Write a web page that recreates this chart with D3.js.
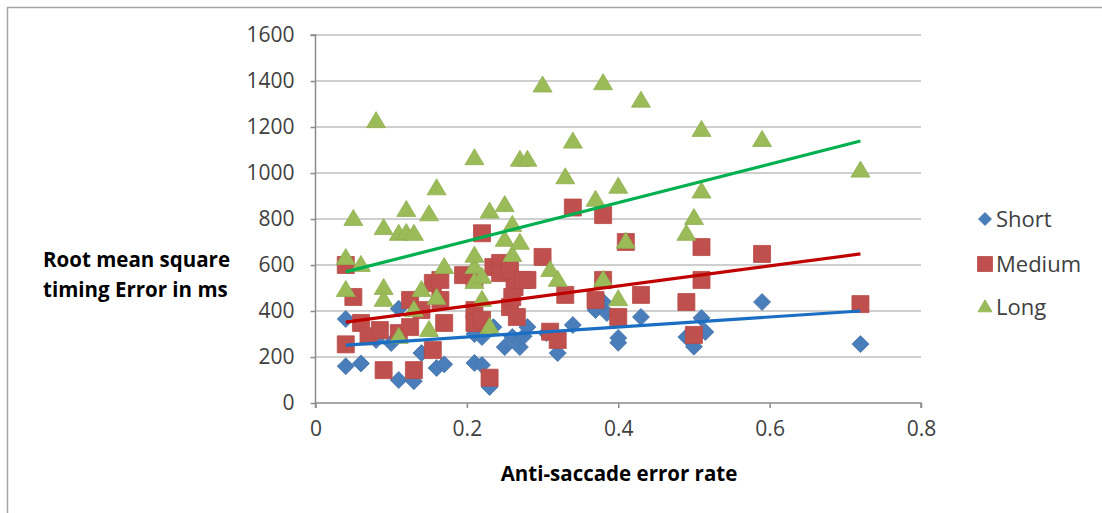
<!DOCTYPE html>
<html><head><meta charset="utf-8">
<script src="https://cdn.jsdelivr.net/npm/d3@7"></script>
<style>body{margin:0;background:#fff;} svg{display:block;font-family:"Open Sans",sans-serif;}</style>
</head><body>
<script>
// ---- data ----
const shortData = [[0.04,365],[0.04,160],[0.06,172],[0.08,274],[0.10,261],[0.11,410],[0.11,100],[0.13,95],[0.14,217],[0.16,152],[0.17,168],[0.21,300],[0.21,174],[0.22,165],[0.22,287],[0.23,70],[0.235,330],[0.25,243],[0.26,287],[0.27,243],[0.275,290],[0.28,330],[0.305,304],[0.32,217],[0.34,339],[0.37,404],[0.385,391],[0.38,440],[0.40,283],[0.40,262],[0.43,374],[0.49,287],[0.50,245],[0.51,370],[0.515,309],[0.59,439],[0.72,256]];
const mediumData = [[0.04,600],[0.04,255],[0.05,461],[0.06,348],[0.07,290],[0.085,317],[0.09,143],[0.11,304],[0.125,448],[0.125,330],[0.13,143],[0.14,404],[0.155,522],[0.155,230],[0.165,448],[0.165,535],[0.17,348],[0.195,556],[0.21,543],[0.21,404],[0.21,348],[0.22,738],[0.22,361],[0.23,110],[0.235,591],[0.244,609],[0.244,565],[0.257,578],[0.257,417],[0.263,504],[0.26,461],[0.266,374],[0.274,535],[0.28,535],[0.30,635],[0.31,310],[0.32,274],[0.33,470],[0.34,850],[0.38,817],[0.38,535],[0.37,448],[0.40,374],[0.41,700],[0.43,470],[0.49,439],[0.50,296],[0.51,678],[0.51,535],[0.59,648],[0.72,430]];
const longData = [[0.04,630],[0.04,491],[0.05,800],[0.06,600],[0.08,1225],[0.09,760],[0.09,500],[0.09,448],[0.11,735],[0.11,287],[0.12,839],[0.12,739],[0.13,735],[0.13,404],[0.14,491],[0.15,820],[0.15,317],[0.16,457],[0.16,933],[0.17,591],[0.21,1064],[0.21,591],[0.21,526],[0.21,640],[0.22,548],[0.22,448],[0.23,832],[0.23,330],[0.25,860],[0.25,709],[0.26,774],[0.26,643],[0.27,696],[0.27,1057],[0.28,1057],[0.30,1380],[0.31,578],[0.32,535],[0.33,981],[0.34,1136],[0.37,883],[0.38,1390],[0.38,535],[0.40,940],[0.40,451],[0.41,701],[0.43,1314],[0.49,735],[0.50,804],[0.51,1187],[0.51,919],[0.59,1143],[0.72,1010]];
const trendShort = [[0.04,252],[0.72,400]];
const trendMedium = [[0.04,352],[0.72,648]];
const trendLong = [[0.04,570],[0.72,1139]];
const seriesNames = ["Short","Medium","Long"];
const xTicks = [0,0.2,0.4,0.6,0.8];
const yTicks = [0,200,400,600,800,1000,1200,1400,1600];
const yTitle = ["Root mean square","timing Error in ms"];
const xTitle = "Anti-saccade error rate";

// ---- drawing ----
const W=1102,H=513;
const svg=d3.select("body").append("svg").attr("width",W).attr("height",H);
svg.append("path").attr("d",`M7.5,${H} V7.5 H${W}`).attr("fill","none").attr("stroke","#a6a6a6").attr("stroke-width",1.5);

const x=d3.scaleLinear().domain([0,0.8]).range([315.5,921]);
const y=d3.scaleLinear().domain([0,1600]).range([403,35]);

// gridlines
svg.append("g").selectAll("line").data(yTicks.slice(1)).join("line")
 .attr("x1",x(0)).attr("x2",x(0.8)).attr("y1",d=>y(d)).attr("y2",d=>y(d))
 .attr("stroke","#bfbfbf").attr("stroke-width",1.5);

const fs=21;
const yAxis=d3.axisLeft(y).tickValues(yTicks).tickSize(5).tickPadding(16).tickFormat(d3.format("d"));
const gy=svg.append("g").attr("transform",`translate(${x(0)},0)`).call(yAxis);
const xAxis=d3.axisBottom(x).tickValues(xTicks).tickSize(5).tickPadding(13).tickFormat(d=>d===0?"0":d3.format(".1f")(d));
const gx=svg.append("g").attr("transform",`translate(0,${y(0)})`).call(xAxis);
[gx,gy].forEach(g=>{
  g.select(".domain").attr("stroke","#8c8c8c").attr("stroke-width",1.5);
  g.selectAll(".tick line").attr("stroke","#8c8c8c").attr("stroke-width",1.5);
  g.selectAll("text").attr("font-size",fs).attr("fill","#404040").attr("font-family","'Open Sans',sans-serif");
});
gx.select(".domain").attr("d",`M${x(0)},5V0H${x(0.8)}V5`);
gy.select(".domain").attr("d",`M-5,${y(1600)}H0V${y(0)}`);

// markers
const diamond=(s)=>`M0,${-s}L${s},0L0,${s}L${-s},0Z`;
const square=(s)=>`M${-s},${-s}H${s}V${s}H${-s}Z`;
const tri=(w,h)=>`M0,${-h*0.6}L${w/2},${h*0.4}L${-w/2},${h*0.4}Z`;
const series=[
 {data:shortData,d:diamond(8.5),fill:"#4a7ebb",stroke:"#4572a7"},
 {data:mediumData,d:square(8.5),fill:"#c0504d",stroke:"#b84a47"},
 {data:longData,d:tri(19,16),fill:"#9bbb59",stroke:"#8fb04f"}
];
series.forEach(s=>{
  svg.append("g").selectAll("path").data(s.data).join("path")
   .attr("d",s.d).attr("transform",p=>`translate(${x(p[0])},${y(p[1])})`)
   .attr("fill",s.fill).attr("stroke",s.stroke).attr("stroke-width",0.8);
});

// trendlines
const line=d3.line().x(p=>x(p[0])).y(p=>y(p[1]));
[[trendShort,"#1a6fc4"],[trendMedium,"#c00000"],[trendLong,"#00b050"]].forEach(([t,c])=>{
  svg.append("path").attr("d",line(t)).attr("fill","none").attr("stroke",c).attr("stroke-width",3.2);
});

// axis titles
const yt=svg.append("text").attr("font-size",20.5).attr("font-weight","bold").attr("fill","#000");
yTitle.forEach((t,i)=>yt.append("tspan").attr("x",43).attr("y",267+i*30).text(t));
svg.append("text").attr("x",619).attr("y",481).attr("text-anchor","middle")
 .attr("font-size",20.5).attr("font-weight","bold").attr("fill","#000").text(xTitle);

// legend
const legY=[219,264,307];
const lg=svg.append("g");
seriesNames.forEach((n,i)=>{
  const sh=[diamond(6.5),square(7.5),tri(14,12)][i];
  lg.append("path").attr("d",sh).attr("transform",`translate(${985},${legY[i]})`)
    .attr("fill",series[i].fill).attr("stroke",series[i].stroke).attr("stroke-width",0.8);
  lg.append("text").attr("x",996).attr("y",legY[i]).attr("dy","0.35em")
    .attr("font-size",22).attr("fill","#404040").text(n);
});
</script>
</body></html>
